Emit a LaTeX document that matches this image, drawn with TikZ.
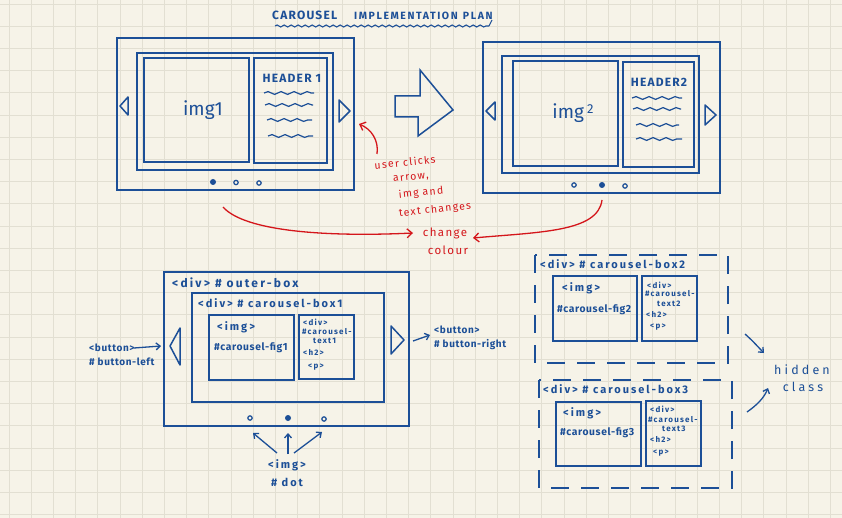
\documentclass[tikz,border=0pt]{standalone}
\usepackage{fontspec}
\setmainfont{Fira Sans}
\newfontfamily\handA[LetterSpace=18]{Fira Sans}
\newfontfamily\handB[LetterSpace=6]{Fira Sans}
\newfontfamily\handC[LetterSpace=15]{Fira Sans}
\newfontfamily\handR[LetterSpace=12]{Fira Sans}
\newfontfamily\handT[LetterSpace=10]{Fira Sans}
\newfontfamily\handH[LetterSpace=25]{Fira Sans}
\usetikzlibrary{decorations.pathmorphing,arrows.meta}
\definecolor{bgc}{RGB}{246,243,232}
\definecolor{gridc}{RGB}{226,223,210}
\definecolor{ink}{RGB}{28,79,151}
\definecolor{redink}{RGB}{212,22,27}
\tikzset{
  frame/.style={draw=ink, line width=1.5pt},
  dashframe/.style={draw=ink, line width=1.5pt, dash pattern=on 18pt off 12pt},
  wave/.style={draw=ink, line width=1.2pt, decorate, decoration={snake, amplitude=1.4pt, segment length=13pt}},
  lbl/.style={text=ink, inner sep=0pt, font=\handA\bfseries\fontsize{11}{11}\selectfont},
  lbls/.style={text=ink, inner sep=0pt, font=\handB\bfseries\fontsize{10}{10}\selectfont},
  figl/.style={text=ink, inner sep=0pt, font=\handB\bfseries\fontsize{10.3}{10.3}\selectfont},
  small/.style={text=ink, inner sep=0pt, font=\handC\bfseries\fontsize{8}{8}\selectfont},
  rtxt/.style={text=redink, inner sep=0pt, font=\handR\fontsize{10.5}{10.5}\selectfont},
  rarrow/.style={draw=redink, line width=1.3pt, -{Straight Barb[length=5pt,width=9pt]}},
  barrow/.style={draw=ink, line width=1.3pt, -{Straight Barb[length=4pt,width=7pt]}},
  dotf/.style={fill=ink},
  doto/.style={draw=ink, line width=1.2pt}
}
\begin{document}
\begin{tikzpicture}[x=1pt,y=-1pt]
\useasboundingbox (0,0) rectangle (842,518);
\fill[bgc] (0,0) rectangle (842,518);
\foreach \i in {0,...,38} {\draw[gridc, line width=0.8pt] ({9+22.2*\i},0) -- ({9+22.2*\i},518);}
\foreach \i in {0,...,23} {\draw[gridc, line width=0.8pt] (0,{4+22.2*\i}) -- (842,{4+22.2*\i});}

% title
\node[text=ink, inner sep=0pt, font=\handT\bfseries\fontsize{12}{12}\selectfont, anchor=west] (title1) at (272,15) {CAROUSEL};
\node[text=ink, inner sep=0pt, font=\handC\bfseries\fontsize{10.5}{11}\selectfont, anchor=west] (title2) at (354,16) {IMPLEMENTATION\enspace PLAN};
\draw[ink, line width=1.1pt, decorate, decoration={snake, amplitude=1pt, segment length=7pt}] (275,26) -- (489,26);
\draw[ink, line width=1.1pt] (489,26) -- (492,20);

% top-left slide
\draw[frame] (117,38) rectangle (354,190);
\draw[frame] (137,53) rectangle (333,170);
\draw[frame] (144,58) rectangle (249,162);
\draw[frame] (254,58) rectangle (327,163);
\node[text=ink, inner sep=0pt, font=\fontsize{19}{19}\selectfont] (img1) at (203,110) {img1};
\node[text=ink, inner sep=0pt, font=\handT\bfseries\fontsize{12}{12}\selectfont] (h1) at (292,78) {HEADER 1};
\draw[wave] (264,93) -- (314,93);
\draw[wave] (265,105) -- (313,105);
\draw[wave] (267,120) -- (312,120);
\draw[wave] (268,136) -- (313,136);
\draw[frame, line join=round] (128,97) -- (120,106) -- (128,115) -- cycle;
\draw[frame, line join=round] (339,100) -- (350,111) -- (339,122) -- cycle;
\fill[dotf] (213,182) circle (3);
\draw[doto] (236,182.5) circle (2.2);
\draw[doto] (259,183) circle (2.2);

% big arrow
\draw[frame, line join=miter] (395,96) -- (420,96) -- (420,70) -- (453,110) -- (418,136) -- (418,117) -- (395,117) -- cycle;

% top-right slide
\draw[frame] (483,42) rectangle (720,193);
\draw[frame] (502,56) rectangle (699,173);
\draw[frame] (513,61) rectangle (618,166);
\draw[frame] (623,62) rectangle (694,167);
\node[text=ink, inner sep=0pt, font=\fontsize{19}{19}\selectfont] (img2) at (573,113) {img\,\raisebox{5pt}{\fontsize{13}{13}\selectfont 2}};
\node[text=ink, inner sep=0pt, font=\handT\bfseries\fontsize{12}{12}\selectfont] (h2) at (659,82) {HEADER2};
\draw[wave] (632,98) -- (682,98);
\draw[wave] (633,109) -- (681,109);
\draw[wave] (636,125) -- (679,125);
\draw[wave] (636,139) -- (682,139);
\draw[frame, line join=round] (495,102) -- (486,111) -- (495,120) -- cycle;
\draw[frame, line join=round] (705,105) -- (716,115) -- (705,125) -- cycle;
\draw[doto] (574,185) circle (2.2);
\fill[dotf] (602,185) circle (3);
\draw[doto] (625,186) circle (2.2);

% red notes
\coordinate (rarrtip) at (359,124);
\coordinate (rarrstart) at (377,154);
\draw[rarrow] (rarrstart) .. controls (379,140) and (371,129) .. (rarrtip);
\node[rtxt, rotate=6] (n1) at (405,162) {user clicks};
\node[rtxt, rotate=6] (n2) at (411,178) {arrow,};
\node[rtxt, rotate=6] (n3) at (421,193) {img and};
\node[rtxt, rotate=6] (n4) at (435,210) {text changes};
\node[rtxt, font=\handR\fontsize{11.5}{11.5}\selectfont] (ch1) at (445,233) {change};
\node[rtxt, font=\handR\fontsize{11.5}{11.5}\selectfont] (ch2) at (448,250) {colour};
\coordinate (lcs) at (223,207);
\coordinate (lce) at (413,233);
\coordinate (rcs) at (602,200);
\coordinate (rce) at (473,238);
\draw[rarrow] (lcs) .. controls (245,232) and (330,237) .. (lce);
\draw[rarrow] (rcs) .. controls (598,232) and (540,232) .. (rce);

% bottom-left structure
\draw[frame] (164,272) rectangle (409,426);
\node[lbl, anchor=west, font=\handA\bfseries\fontsize{12}{12}\selectfont] (outer) at (172,283) {<div> \# outer-box};
\draw[frame] (192,293) rectangle (384,402);
\node[lbl, anchor=west] (cb1) at (198,303) {<div> \# carousel-box1};
\draw[frame] (209,315) rectangle (294,380);
\draw[frame] (299,315) rectangle (354,379);
\node[lbl, anchor=west] (i1) at (217,327) {<img>};
\node[figl, anchor=west] (f1) at (214,348) {\#carousel-fig1};
\node[small, anchor=west] (d1) at (303,322) {<div>};
\node[small, anchor=west] (c1) at (302,332) {\#carousel-};
\node[small, anchor=west] (t1) at (313,341) {text1};
\node[small, anchor=west] (hh1) at (303,352) {<h2>};
\node[small, anchor=west] (p1) at (308,367) {<p>};
\draw[frame, line join=round] (180,328) -- (170,346) -- (180,365) -- cycle;
\draw[frame, line join=round] (391,326) -- (404,340) -- (391,354) -- cycle;
\coordinate (ltip) at (161,346);
\coordinate (lstart) at (134,348);
\coordinate (rtip) at (413,341);
\coordinate (rend) at (430,335);
\node[lbls, anchor=west] (bl1) at (89,348) {<button>};
\node[lbls, anchor=west] (bl2) at (89,362) {\# button-left};
\draw[barrow] (lstart) -- (ltip);
\node[lbls, anchor=west] (br1) at (434,330) {<button>};
\node[lbls, anchor=west] (br2) at (434,345) {\# button-right};
\draw[barrow] (rtip) -- (rend);
\draw[doto] (250,418) circle (2.2);
\fill[dotf] (288,418) circle (3);
\draw[doto] (324,419) circle (2.2);
\node[lbl] (dimg) at (287,465) {<img>};
\node[lbl] (ddot) at (287,482) {\# dot};
\coordinate (ds1) at (277,453);
\coordinate (ds2) at (288,454);
\coordinate (ds3) at (294,453);
\coordinate (dt1) at (253,433);
\coordinate (dt2) at (288,433);
\coordinate (dt3) at (322,432);
\draw[barrow] (ds1) -- (dt1);
\draw[barrow] (ds2) -- (dt2);
\draw[barrow] (ds3) -- (dt3);

% box 2
\draw[dashframe] (535,255) rectangle (728,363);
\node[lbl, anchor=west] (cb2) at (540,264) {<div> \# carousel-box2};
\draw[frame] (553,276) rectangle (637,341);
\draw[frame] (642,276) rectangle (697,341);
\node[lbl, anchor=west] (i2) at (562,288) {<img>};
\node[figl, anchor=west] (f2) at (557,310) {\#carousel-fig2};
\node[small, anchor=west] (d2) at (647,285) {<div>};
\node[small, anchor=west] (c2) at (645,294) {\#carousel-};
\node[small, anchor=west] (t2) at (657,304) {text2};
\node[small, anchor=west] (hh2) at (646,314) {<h2>};
\node[small, anchor=west] (p2) at (650,327) {<p>};

% box 3
\draw[dashframe] (539,380) rectangle (732,488);
\node[lbl, anchor=west] (cb3) at (543,389) {<div> \# carousel-box3};
\draw[frame] (556,402) rectangle (641,466);
\draw[frame] (646,401) rectangle (701,466);
\node[lbl, anchor=west] (i3) at (563,413) {<img>};
\node[figl, anchor=west] (f3) at (560,433) {\#carousel-fig3};
\node[small, anchor=west] (d3) at (650,409) {<div>};
\node[small, anchor=west] (c3) at (648,420) {\#carousel-};
\node[small, anchor=west] (t3) at (662,429) {text3};
\node[small, anchor=west] (hh3) at (650,439) {<h2>};
\node[small, anchor=west] (p3) at (653,453) {<p>};

% hidden class
\node[text=ink, inner sep=0pt, font=\handH\fontsize{12.5}{12.5}\selectfont] (hid1) at (802,370) {hidden};
\node[text=ink, inner sep=0pt, font=\handH\fontsize{12.5}{12.5}\selectfont] (hid2) at (803,387) {class};
\coordinate (ha1) at (745,334);
\coordinate (hb1) at (764,353);
\coordinate (ha2) at (747,412);
\coordinate (hb2) at (768,388);
\draw[barrow] (ha1) .. controls (754,342) and (758,347) .. (hb1);
\draw[barrow] (ha2) .. controls (757,405) and (764,398) .. (hb2);
\end{tikzpicture}
\end{document}
